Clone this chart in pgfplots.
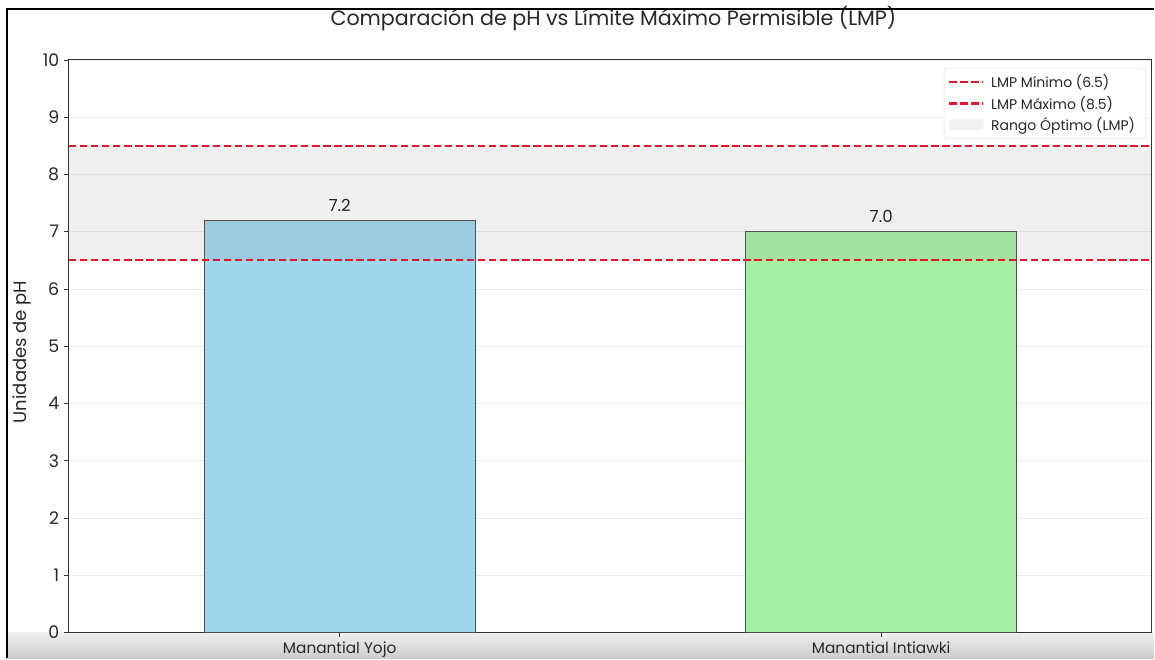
\documentclass[border=0pt]{standalone}
\usepackage{pgfplots}
\pgfplotsset{compat=1.18}
\usepackage{fontspec}
\setmainfont{Poppins}
\definecolor{lmpred}{RGB}{228,22,42}
\definecolor{yojo}{RGB}{158,214,236}
\definecolor{inti}{RGB}{166,240,166}
\definecolor{txt}{RGB}{40,40,40}
\begin{document}
\begin{tikzpicture}
% page and screenshot frame (1 px = 0.75pt)
\begin{scope}[x=0.75pt,y=0.75pt]
  \useasboundingbox (0,0) rectangle (1155,659);
  \fill[white] (0,0) rectangle (1155,659);
  \shade[top color=gray!12, bottom color=gray!40] (7,0) rectangle (1155,26);
  \node[font=\fontsize{15.5}{17}\selectfont, text=txt] at (614,640) {Comparación de pH vs Límite Máximo Permisible (LMP)};
\end{scope}
\begin{scope}
\clip (0,0) rectangle (866.25pt,494.25pt);
\begin{axis}[
  at={(51.75pt,19.5pt)}, anchor=south west,
  scale only axis,
  width=813pt, height=429.75pt,
  xmin=-0.5, xmax=1.5,
  ymin=0, ymax=10,
  xtick={0,1},
  xticklabels={Manantial Yojo, Manantial Intiawki},
  ytick={0,1,...,10},
  tick align=outside,
  tick pos=left,
  major tick length=3.8pt,
  axis line style={black!80, line width=0.7pt},
  tick style={black!80, line width=0.6pt},
  ymajorgrids,
  major grid style={gray!15, line width=0.5pt},
  yticklabel style={font=\fontsize{13}{14}\selectfont, text=txt},
  xticklabel style={font=\fontsize{11.5}{13}\selectfont, text=txt, yshift=0pt},
  /pgf/number format/assume math mode=true,
  ylabel={Unidades de pH},
  ylabel style={font=\fontsize{13.5}{15}\selectfont, text=txt, at={(axis description cs:-0.043,0.49)}, anchor=center},
  legend style={at={(axis description cs:0.9945,0.986)}, anchor=north east,
    draw=gray!25, rounded corners=2pt, font=\fontsize{10.5}{12}\selectfont, text=txt,
    row sep=0.5pt, inner sep=3pt, nodes={inner xsep=5pt}},
  legend cell align=left,
  legend image code/.code={\draw[#1] (0pt,0pt) -- (0.9cm,0pt);},
]
\addlegendimage{lmpred, line width=1.6pt, dash pattern=on 5.5pt off 2.8pt}
\addlegendentry{LMP Mínimo (6.5)}
\addlegendimage{lmpred, line width=1.6pt, dash pattern=on 5.5pt off 2.8pt}
\addlegendentry{LMP Máximo (8.5)}
\addlegendimage{legend image code/.code={\fill[gray!12] (0pt,-4pt) rectangle (0.9cm,4pt);}}
\addlegendentry{Rango Óptimo (LMP)}

\addplot[forget plot, ybar, bar width=0.5, bar shift=0pt, fill=yojo, draw=black!70, line width=0.75pt,
  nodes near coords, nodes near coords style={font=\fontsize{12.5}{14}\selectfont, text=txt, yshift=3pt},
  point meta=explicit symbolic]
  coordinates {(0,7.2) [7.2]};
\addplot[forget plot, ybar, bar width=0.5, bar shift=0pt, fill=inti, draw=black!70, line width=0.75pt,
  nodes near coords, nodes near coords style={font=\fontsize{12.5}{14}\selectfont, text=txt, yshift=3pt},
  point meta=explicit symbolic]
  coordinates {(1,7.0) [7.0]};

\addplot[forget plot, fill=gray, fill opacity=0.12, draw=none]
  coordinates {(-0.5,6.5) (1.5,6.5) (1.5,8.5) (-0.5,8.5)} \closedcycle;

\addplot[forget plot, lmpred, line width=1.6pt, dash pattern=on 5.5pt off 2.8pt]
  coordinates {(-0.5,6.5) (1.5,6.5)};
\addplot[forget plot, lmpred, line width=1.6pt, dash pattern=on 5.5pt off 2.8pt]
  coordinates {(-0.5,8.5) (1.5,8.5)};
\end{axis}
\end{scope}
\begin{scope}[x=0.75pt,y=0.75pt]
  \draw[black, line width=1.6pt] (7,0) -- (7,650) -- (1155,650);
\end{scope}
\end{tikzpicture}
\end{document}
